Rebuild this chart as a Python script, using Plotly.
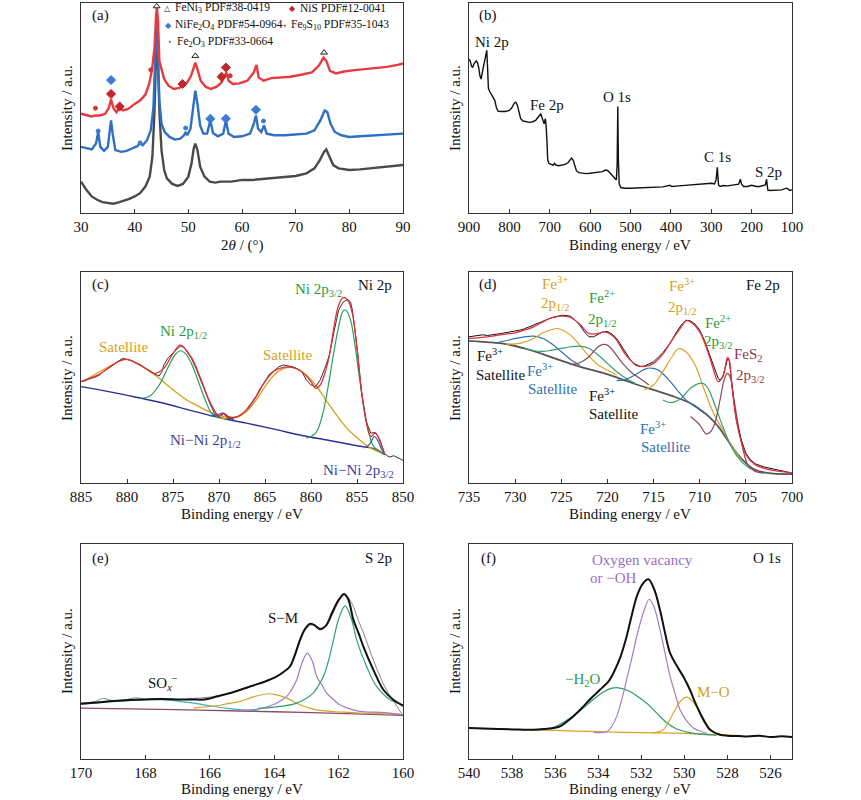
import plotly.graph_objects as go

SERIF = "Liberation Serif"
W, H = 861, 800

# ---------------- (a) XRD ----------------
a_tt_gray = [30, 31, 32, 33, 34, 35, 36, 37, 38, 39, 40, 41, 42, 42.8, 43.3, 43.7, 44.0, 44.15, 44.3, 44.6,
             45, 45.5, 46, 47, 48, 49, 50, 50.6, 51.0, 51.3, 51.7, 52.2, 53, 54, 55, 56, 58, 60, 62, 64,
             66, 68, 70, 72, 73.5, 74.5, 75.3, 75.7, 76.3, 77, 78, 80, 82, 84, 86, 88, 90]
a_int_gray = [95, 70, 50, 40, 33, 30, 28, 32, 37, 43, 50, 60, 80, 110, 170, 310, 490, 560, 480, 310,
              190, 130, 105, 88, 82, 88, 110, 150, 195, 210, 190, 140, 110, 95, 92, 95, 95, 100, 100, 103,
              105, 108, 112, 120, 135, 160, 185, 192, 170, 145, 135, 130, 132, 135, 138, 140, 145]

a_tt_blue = [30, 31, 32, 32.8, 33.2, 33.6, 34.3, 35.0, 35.4, 35.6, 35.9, 36.4, 37.5, 38.5, 39.5, 40.5, 41, 41.5,
             42.3, 43, 43.5, 43.9, 44.1, 44.3, 44.6, 45, 45.6, 46.5, 47.5, 48.5, 49.2, 49.5, 49.8, 50.4, 50.9,
             51.3, 51.7, 52.2, 52.8, 53.5, 54.1, 54.6, 55.5, 56.5, 57, 57.5, 58.5, 60, 61.5, 62.2, 62.6, 63,
             63.6, 64.1, 64.6, 66, 68, 70, 72, 73.5, 74.6, 75.4, 75.9, 76.5, 77.3, 78.5, 80, 82, 84, 86, 88, 90]
a_int_blue = [200, 195, 192, 210, 245, 200, 188, 200, 250, 280, 240, 190, 185, 188, 195, 202, 212, 205,
              220, 250, 320, 490, 590, 500, 340, 270, 245, 230, 222, 225, 235, 245, 235, 255, 320,
              370, 330, 265, 240, 240, 280, 242, 232, 240, 280, 240, 230, 232, 240, 270, 295, 255,
              245, 265, 240, 235, 235, 238, 240, 250, 280, 310, 305, 270, 245, 235, 230, 232, 234, 235, 238, 240]

a_tt_red = [30, 31, 32, 32.7, 33.5, 34.5, 35.2, 35.6, 36, 36.6, 37.2, 37.8, 38.8, 40, 41, 42, 42.7, 43.2, 43.7,
            44.0, 44.15, 44.35, 44.6, 45, 45.5, 46.3, 47.3, 48.3, 49, 49.8, 50.5, 51.0, 51.3, 51.7, 52.3, 53.2,
            54.2, 55.3, 56.2, 56.8, 57.1, 57.5, 58.3, 59.5, 61, 62.2, 62.7, 63.1, 64, 65.5, 67, 69, 71, 73,
            74.3, 75.2, 75.7, 76.4, 77.5, 79, 81, 83, 85, 87, 89, 90]
a_int_red = [300, 295, 292, 295, 295, 300, 318, 345, 318, 305, 318, 310, 315, 330, 340, 358, 390, 430, 500,
             600, 620, 580, 460, 435, 405, 385, 375, 378, 385, 395, 415, 445, 455, 435, 400, 382,
             375, 382, 395, 415, 425, 400, 390, 392, 400, 425, 448, 410, 400, 408, 410, 412, 418, 425,
             445, 470, 460, 430, 422, 428, 432, 435, 438, 442, 448, 452]

feni3_tt = [44.1, 51.3, 75.3]
feni3_int = [625, 475, 485]
nis_tt = [35.6, 37.2, 48.9, 56.2, 57.0]
nis_int = [360, 322, 390, 412, 440]
fe9s10_tt = [32.7, 43.0, 57.8]
fe9s10_int = [317, 433, 415]
nife2o4_tt = [35.6, 54.1, 57.0, 62.6]
nife2o4_int = [402, 285, 285, 312]
fe2o3_tt = [33.2, 41.0, 49.5, 64.0]
fe2o3_int = [248, 212, 257, 278]

# ---------------- (b) survey ----------------
b_be = [900, 897, 894, 891, 888, 885, 882, 879, 876, 873, 870, 867, 864, 861, 858, 856, 854, 852, 849, 845,
        840, 836, 832, 828, 820, 810, 800, 794, 788, 784, 780, 776, 772, 766, 758, 750, 742, 735, 730, 725,
        722, 719, 716, 714, 711, 709, 707, 705, 702, 698, 692, 688, 685, 678, 670, 662, 655, 650, 646, 642,
        638, 634, 628, 620, 610, 600, 590, 580, 570, 562, 556, 550, 545, 540, 535, 533, 531.5, 530, 528, 524,
        515, 500, 480, 460, 440, 420, 402, 398, 380, 360, 340, 320, 300, 292, 288, 285, 282, 278, 270, 260,
        250, 240, 232, 228, 225, 220, 210, 200, 195, 188, 180, 172, 166, 163, 160, 155, 140, 125, 115, 110,
        105, 100]
b_int = [465, 460, 445, 440, 450, 455, 460, 455, 440, 415, 405, 425, 445, 455, 480, 492, 440, 378, 368, 360,
         352, 340, 318, 308, 307, 307, 310, 318, 332, 335, 325, 300, 285, 278, 275, 274, 276, 280, 288, 298,
         300, 288, 272, 270, 285, 265, 220, 160, 150, 147, 145, 150, 145, 143, 145, 147, 152, 160, 166, 160,
         140, 128, 122, 120, 119, 120, 121, 122, 125, 130, 128, 120, 113, 105, 100, 150, 322, 160, 88, 77,
         75, 75, 76, 77, 78, 79, 84, 80, 82, 84, 86, 88, 90, 88, 100, 138, 85, 80, 83, 82,
         84, 84, 87, 102, 88, 80, 80, 84, 82, 80, 80, 83, 85, 102, 70, 68, 68, 70, 75, 73,
         68, 70]

# ---------------- (c) Ni 2p ----------------
c_raw_be = [885, 884.5, 884, 883.5, 883, 882.5, 882, 881.5, 881, 880.5, 880, 879.5, 879, 878.5, 878, 877.5, 877,
            876.5, 876.2, 876, 875.5, 875, 874.5, 874.2, 873.8, 873.5, 873, 872.5, 872, 871.5, 871, 870.5, 870,
            869.5, 869, 868.5, 868, 867.5, 867, 866.5, 866, 865.5, 865, 864.5, 864, 863.5, 863, 862.5, 862,
            861.5, 861, 860.5, 860, 859.5, 859, 858.5, 858, 857.5, 857, 856.5, 856, 855.7, 855.5, 855, 854.5,
            854, 853.5, 853, 852.5, 852, 851.5, 851, 850.5, 850]
c_raw_int = [305, 308, 315, 318, 325, 337, 345, 355, 365, 375, 372, 368, 360, 355, 345, 338, 328,
             322, 335, 355, 378, 392, 405, 412, 408, 395, 375, 345, 310, 270, 240, 210, 200,
             208, 195, 195, 200, 208, 222, 240, 260, 285, 308, 328, 338, 350, 355, 352, 350,
             344, 335, 310, 295, 290, 310, 345, 385, 455, 520, 545, 552, 545, 520, 410, 270,
             185, 150, 152, 130, 88, 78, 82, 75, 68]
c_fit_be = [885, 883, 881, 880, 878, 877, 876, 875, 874.2, 873, 872, 871, 870, 869.5, 869, 868, 867, 866, 865,
            864, 863, 862, 861, 860, 859.5, 859, 858.5, 858, 857.5, 857, 856.5, 856, 855.5, 855, 854.5, 854,
            853.5, 853, 852.5, 852]
c_fit_int = [305, 327, 365, 372, 345, 330, 345, 390, 415, 378, 315, 245, 202, 210, 200, 200, 220, 258, 305,
             337, 348, 348, 335, 305, 285, 295, 330, 385, 470, 535, 558, 550, 510, 405, 275, 185,
             140, 150, 125, 87]
c_bg_be = [885, 882, 879, 876, 873, 870, 867, 864, 861, 858, 855, 853, 852]
c_bg_int = [290, 275, 258, 240, 218, 197, 180, 162, 143, 128, 112, 102, 85]
c_ni12_be = [878.5, 877.5, 876.5, 875.5, 874.8, 874.2, 873.6, 873, 872.3, 871.5, 870.8, 870]
c_ni12_int = [255, 262, 295, 350, 385, 398, 388, 360, 310, 250, 210, 197]
c_ni32_be = [860.5, 859.5, 858.8, 858.2, 857.6, 857, 856.5, 856.2, 855.7, 855.2, 854.7, 854.2, 853.7, 853.2,
             852.5, 852]
c_ni32_int = [135, 150, 200, 280, 380, 470, 518, 520, 490, 410, 310, 220, 150, 110, 95, 85]
c_sat1_be = [885, 884, 883, 882, 881, 880.3, 879.5, 878.5, 877.5, 876.5, 875.5, 874.5, 873.5, 872.5, 871.5,
             870.5, 869.5, 868.5]
c_sat1_int = [305, 318, 335, 350, 365, 372, 368, 355, 335, 315, 292, 270, 250, 235, 220, 208, 200, 193]
c_sat2_be = [870, 869, 868, 867, 866, 865, 864, 863, 862.2, 861.5, 860.5, 859.5, 858.5, 857.5, 856.5, 855.5,
             854.5, 853.5, 852.5, 852]
c_sat2_int = [195, 195, 198, 215, 248, 290, 325, 344, 348, 343, 325, 295, 255, 215, 178, 148, 125, 105, 92, 85]
c_nini32_be = [854.2, 853.6, 853.1, 852.7, 852.3, 852]
c_nini32_int = [105, 118, 140, 125, 100, 85]
c_nini12_be = [871, 870.2, 869.6, 869, 868.4]
c_nini12_int = [202, 205, 210, 200, 190]

# ---------------- (d) Fe 2p ----------------
d_raw_be = [735, 734.5, 734, 733.5, 733, 732.5, 732, 731.5, 731, 730.5, 730, 729.5, 729, 728.5, 728, 727.5, 727,
            726.5, 726, 725.5, 725, 724.5, 724, 723.5, 723, 722.5, 722, 721.5, 721, 720.5, 720, 719.5, 719,
            718.5, 718, 717.5, 717, 716.5, 716, 715.5, 715, 714.5, 714, 713.5, 713, 712.5, 712, 711.5, 711,
            710.5, 710, 709.5, 709, 708.5, 708, 707.8, 707.5, 707.2, 707, 706.8, 706.5, 706.2, 706, 705.5,
            705, 704.5, 704, 703, 702, 701, 700]
d_raw_int = [440, 442, 444, 446, 444, 447, 448, 450, 452, 455, 456, 460, 464, 470, 474, 480, 488,
             492, 498, 500, 505, 504, 502, 490, 475, 455, 440, 440, 448, 455, 456, 448, 435,
             412, 390, 370, 355, 350, 352, 358, 365, 378, 392, 410, 430, 455, 475, 490, 488,
             478, 460, 430, 390, 350, 315, 310, 320, 350, 372, 370, 290, 220, 185, 130,
             90, 70, 58, 48, 42, 36, 30]
d_fit_be = [735, 733, 731, 730, 729, 728, 727, 726, 725, 724, 723, 722, 721, 720.3, 719.5, 719, 718, 717, 716,
            715, 714, 713, 712, 711.5, 711, 710, 709, 708.5, 708, 707.5, 707.2, 707, 706.8, 706.5, 706, 705.5,
            705, 704, 703, 702, 701, 700]
d_fit_int = [435, 440, 448, 452, 460, 470, 485, 498, 502, 498, 478, 450, 450, 455, 445, 430, 385, 358, 350,
             360, 388, 430, 470, 488, 485, 455, 385, 340, 305, 320, 355, 378, 370, 290, 185, 125,
             85, 55, 44, 38, 34, 30]
d_bg_be = [735, 733, 731, 729, 727, 725, 723, 721, 719, 717, 715, 713, 711, 710, 709, 708, 707, 706, 705, 704,
           703, 702, 700]
d_bg_int = [428, 424, 418, 405, 388, 368, 350, 335, 318, 298, 280, 262, 240, 222, 200, 170, 130, 90, 60, 40,
            32, 28, 27]
d_sat1_be = [732, 731, 730, 729, 728, 727, 726, 725, 724, 723]
d_sat1_int = [422, 428, 435, 440, 442, 435, 418, 395, 372, 355]
d_fe3a_be = [731, 729.5, 728, 727, 726, 725.5, 725, 724, 723, 722, 721, 720, 719]
d_fe3a_int = [418, 420, 435, 452, 462, 465, 462, 445, 415, 382, 355, 340, 325]
d_fe2a_be = [729, 728, 727, 726, 725, 724, 723, 722, 721, 720, 719, 718, 717]
d_fe2a_int = [405, 398, 396, 400, 405, 410, 412, 405, 385, 360, 335, 315, 300]
d_fes2a_be = [724, 723, 722, 721.2, 720.5, 720, 719.3, 718.5, 717.5, 716.5, 715.5]
d_fes2a_int = [356, 362, 380, 405, 417, 415, 395, 365, 335, 315, 295]
d_sat2_be = [719, 718, 717, 716, 715.3, 714.5, 713.5, 712.5, 711.5, 710.5, 709.5]
d_sat2_int = [308, 312, 325, 342, 346, 340, 315, 282, 250, 230, 210]
d_fe3b_be = [716, 715, 714, 713, 712.3, 711.5, 710.5, 709.5, 708.5, 707.5, 706.5, 705.5]
d_fe3b_int = [280, 295, 335, 380, 404, 395, 355, 280, 210, 160, 110, 70]
d_fe2b_be = [714, 713, 712, 711, 710, 709.5, 709, 708.3, 707.5, 706.5, 705.5, 704.5]
d_fe2b_int = [250, 242, 255, 285, 300, 298, 280, 230, 170, 105, 65, 42]
d_fes2b_be = [711, 710, 709.3, 708.8, 708.3, 707.8, 707.3, 707, 706.7, 706.3, 705.8, 705.3, 704.8, 704, 703]
d_fes2b_int = [200, 175, 148, 155, 185, 250, 315, 330, 318, 255, 170, 100, 55, 35, 30]

# ---------------- (e) S 2p ----------------
e_fit_be = [170, 169.5, 169, 168.5, 168, 167.5, 167, 166.5, 166.3, 166, 165.79, 165.3, 164.75, 164.3, 163.92,
            163.7, 163.51, 163.35, 163.2, 163.05, 162.89, 162.75, 162.58, 162.4, 162.2, 162.0, 161.83, 161.7,
            161.54, 161.38, 161.23, 160.92, 160.61, 160.3, 160]
e_fit_int = [166, 170, 174, 177, 179, 180, 179, 179, 178, 182, 188, 200, 218, 232, 248,
             262, 278, 315, 358, 390, 406, 402, 390, 400, 440, 478, 496, 480,
             418, 378, 338, 268, 208, 178, 160]
e_raw_be = [170, 169.6, 169.3, 169, 168.6, 168.3, 168, 167.5, 167, 166.5, 166, 165.5, 165, 164.5, 164, 163.5,
            163.2, 163, 162.8, 162.6, 162.4, 162.2, 162, 161.8, 161.6, 161.4, 161.2, 161, 160.8, 160.5, 160.2, 160]
e_raw_int = [168, 172, 182, 175, 178, 184, 180, 182, 178, 182, 186, 195, 210, 226, 244, 282,
             352, 392, 404, 394, 398, 432, 472, 492, 470, 420, 372, 318, 268, 205, 160, 130]
e_bg_be = [170, 168, 166, 164, 162, 160]
e_bg_int = [153, 150, 146, 142, 137, 131]
e_sox_be = [170, 169, 168, 167.5, 167, 166.5, 166, 165.5, 165, 164.5]
e_sox_int = [165, 172, 178, 178, 174, 168, 160, 153, 148, 145]
e_gold_be = [166.5, 166.3, 165.79, 165.4, 165.06, 164.6, 164.18, 163.9, 163.61, 163.2, 162.9, 162.58, 162.1,
             161.65, 161, 160.1]
e_gold_int = [153, 155, 160, 167, 173, 188, 196, 192, 183, 163, 153, 146, 142, 140, 137, 135]
e_purple_be = [165, 164.5, 164.03, 163.8, 163.61, 163.45, 163.3, 163.15, 162.97, 162.82, 162.68, 162.5, 162.37,
               162.15, 161.96, 161.34, 160.7, 160]
e_purple_int = [146, 150, 163, 175, 188, 210, 238, 285, 318, 295, 248, 220, 198, 178, 163, 143, 140, 133]
e_green_be = [164.5, 164, 163.3, 162.79, 162.6, 162.47, 162.3, 162.16, 162.0, 161.8, 161.6, 161.44, 161.13,
              160.82, 160.4, 160]
e_green_int = [152, 156, 168, 198, 225, 248, 300, 358, 420, 460, 420, 358, 278, 218, 178, 163]

# ---------------- (f) O 1s ----------------
f_fit_be = [540, 539, 538, 537, 536.5, 536, 535.77, 535.3, 534.84, 534.4, 533.92, 533.5, 533.22, 532.95, 532.68,
            532.45, 532.21, 531.95, 531.67, 531.4, 531.13, 530.9, 530.66, 530.35, 530.05, 529.74, 529.5, 529.27,
            529.0, 528.81, 528.34, 528, 527.5, 527, 526.5, 526, 525.5, 525]
f_fit_int = [93, 91, 89, 88, 90, 94, 98, 120, 148, 178, 208, 235, 268, 310, 368,
             430, 488, 525, 540, 510, 448, 380, 318, 280, 248, 208, 170, 138,
             105, 88, 73, 70, 69, 68, 70, 66, 68, 66]
f_bg_be = [540, 538, 536, 534, 532, 530, 528.5, 527.3]
f_bg_int = [93, 89, 86, 82, 79, 77, 73, 70]
f_h2o_be = [537, 536, 535.5, 534.84, 534.3, 533.8, 533.4, 533.06, 532.6, 532.1, 531.7, 531.28, 530.8, 530.35,
            529.8, 529.27, 528.5]
f_h2o_int = [88, 97, 115, 145, 175, 200, 212, 214, 205, 185, 165, 138, 108, 90, 80, 75, 72]
f_ov_be = [534.2, 533.6, 533.35, 533.14, 532.9, 532.68, 532.45, 532.21, 531.9, 531.63, 531.4, 531.13, 530.9,
           530.66, 530.4, 530.2, 529.9, 529.58, 529.2, 528.96]
f_ov_int = [80, 82, 100, 128, 180, 238, 300, 368, 440, 480, 455, 388, 320, 248, 190, 148, 115, 93, 82, 78]
f_mo_be = [531.5, 530.98, 530.75, 530.51, 530.2, 529.89, 529.6, 529.27, 528.96, 528.65, 528.3]
f_mo_int = [78, 88, 110, 138, 172, 186, 172, 140, 105, 80, 74]

# ---------------- figure ----------------
fig = go.Figure()


def line(n, x, y, color, width=1.2, shape="spline"):
    ax = "" if n == 1 else str(n)
    fig.add_trace(go.Scatter(x=x, y=y, mode="lines", xaxis="x" + ax, yaxis="y" + ax,
                             line=dict(color=color, width=width, shape=shape), hoverinfo="skip"))


def marks(x, y, symbol, color, size):
    fig.add_trace(go.Scatter(x=x, y=y, mode="markers", xaxis="x", yaxis="y",
                             marker=dict(symbol=symbol, color=color, size=size,
                                         line=dict(color=color, width=1)), hoverinfo="skip"))


# (a)
line(1, a_tt_gray, a_int_gray, "#4a4a4a", 2.4, "linear")
line(1, a_tt_blue, a_int_blue, "#2f6fc4", 2.4, "linear")
line(1, a_tt_red, a_int_red, "#e8393f", 2.4, "linear")
marks(feni3_tt, feni3_int, "triangle-up-open", "#222", 6)
marks(nis_tt, nis_int, "diamond", "#c1272d", 7)
marks(fe9s10_tt, fe9s10_int, "circle", "#d93030", 4)
marks(nife2o4_tt, nife2o4_int, "diamond", "#3a7bd5", 7)
marks(fe2o3_tt, fe2o3_int, "circle", "#3a7bd5", 4)

# (b)
line(2, b_be, b_int, "#111", 1.4, "linear")

# (c)
line(3, c_bg_be, c_bg_int, "#2b2f8f", 1.4)
line(3, c_sat1_be, c_sat1_int, "#d4a020", 1.3)
line(3, c_sat2_be, c_sat2_int, "#d4a020", 1.3)
line(3, c_ni12_be, c_ni12_int, "#2a9d5c", 1.2)
line(3, c_ni32_be, c_ni32_int, "#2a9d5c", 1.2)
line(3, c_nini12_be, c_nini12_int, "#3b4fb0", 1.2)
line(3, c_nini32_be, c_nini32_int, "#3b4fb0", 1.2)
line(3, c_raw_be, c_raw_int, "#333", 1.0, "linear")
line(3, c_fit_be, c_fit_int, "#e0303a", 1.3)

# (d)
line(4, d_bg_be, d_bg_int, "#555", 1.8)
line(4, d_sat1_be, d_sat1_int, "#2f70b0", 1.2)
line(4, d_fe3a_be, d_fe3a_int, "#d9a227", 1.2)
line(4, d_fe2a_be, d_fe2a_int, "#3a9e78", 1.2)
line(4, d_fes2a_be, d_fes2a_int, "#8b4a5c", 1.2)
line(4, d_sat2_be, d_sat2_int, "#2f70b0", 1.2)
line(4, d_fe3b_be, d_fe3b_int, "#d9a227", 1.2)
line(4, d_fe2b_be, d_fe2b_int, "#3a9e78", 1.2)
line(4, d_fes2b_be, d_fes2b_int, "#8b4a5c", 1.2)
line(4, d_raw_be, d_raw_int, "#111", 1.0, "linear")
line(4, d_fit_be, d_fit_int, "#e0303a", 1.3)

# (e)
line(5, e_bg_be, e_bg_int, "#8a4a6a", 1.3)
line(5, e_sox_be, e_sox_int, "#39b5b8", 1.2)
line(5, e_gold_be, e_gold_int, "#d8a22a", 1.2)
line(5, e_purple_be, e_purple_int, "#a07ac8", 1.2)
line(5, e_green_be, e_green_int, "#2fa070", 1.2)
line(5, e_raw_be, e_raw_int, "#888", 1.0)
line(5, e_fit_be, e_fit_int, "#111", 2.0)

# (f)
line(6, f_bg_be, f_bg_int, "#d9a227", 1.3)
line(6, f_h2o_be, f_h2o_int, "#2a9d6a", 1.2)
line(6, f_ov_be, f_ov_int, "#a27cc8", 1.2)
line(6, f_mo_be, f_mo_int, "#e0a525", 1.2)
line(6, f_fit_be, f_fit_int, "#111", 2.0)

# axes: pixel boxes (left, top, right, bottom)
boxes = [(81, 3, 403, 213), (469, 3, 792, 213), (81, 272, 403, 483),
         (469, 272, 792, 483), (81, 544, 403, 759), (469, 544, 792, 759)]
xranges = [[30, 90], [900, 100], [885, 850], [735, 700], [170, 160], [540, 525]]
dticks = [10, 100, 5, 5, 2, 2]
yranges = [[0, 635], [0, 635], [0, 635], [0, 635], [0, 646], [0, 646]]

axes = {}
for i, (l, t, r, b) in enumerate(boxes):
    n = "" if i == 0 else str(i + 1)
    frame = dict(showline=True, mirror=True, linecolor="#333", linewidth=1.3,
                 showgrid=False, zeroline=False, automargin=False)
    axes["xaxis" + n] = dict(domain=[l / W, r / W], anchor="y" + n, range=xranges[i], dtick=dticks[i],
                             ticks="inside", ticklen=4, tickwidth=1, tickcolor="#333",
                             tickfont=dict(family=SERIF, size=15, color="#111"), **frame)
    axes["yaxis" + n] = dict(domain=[1 - b / H, 1 - t / H], anchor="x" + n, range=yranges[i],
                             showticklabels=False, ticks="", **frame)


def note(px, py, text, color="#111", size=15, anchor="center", angle=0):
    return dict(x=px / W, y=1 - py / H, xref="paper", yref="paper", text=text, showarrow=False,
                font=dict(family=SERIF, size=size, color=color), xanchor=anchor, yanchor="middle",
                textangle=angle)


GOLD, GREEN, NAVY, BROWN, BLUE, PURPLE = "#d4a020", "#2a9d3c", "#3b3f9a", "#8b3a4a", "#2f70b0", "#9a6cc0"
notes = [
    # panel letters and element labels
    note(100, 15, "(a)"), note(488, 15, "(b)"), note(100, 285, "(c)"),
    note(488, 285, "(d)"), note(100, 558, "(e)"), note(488, 558, "(f)"),
    note(375, 285, "Ni 2p"), note(763, 285, "Fe 2p"), note(378, 558, "S 2p"), note(767, 558, "O 1s"),
    # axis titles
    note(242, 245, "2<i>θ</i> / (°)"), note(630, 245, "Binding energy / eV"),
    note(242, 514, "Binding energy / eV"), note(630, 514, "Binding energy / eV"),
    note(242, 789, "Binding energy / eV"), note(630, 789, "Binding energy / eV"),
    note(67, 108, "Intensity / a.u.", angle=-90), note(455, 108, "Intensity / a.u.", angle=-90),
    note(67, 378, "Intensity / a.u.", angle=-90), note(455, 378, "Intensity / a.u.", angle=-90),
    note(67, 651, "Intensity / a.u.", angle=-90), note(455, 651, "Intensity / a.u.", angle=-90),
    # (a) phase key
    note(167, 8, "△", "#222", 8), note(173, 8, "FeNi<sub>3</sub> PDF#38-0419", size=11.5, anchor="left"),
    note(292, 8, "◆", "#c1272d", 8), note(298, 8, "NiS PDF#12-0041", size=11.5, anchor="left"),
    note(168, 25, "◆", "#3a7bd5", 8), note(173, 25, "NiFe<sub>2</sub>O<sub>4</sub> PDF#54-0964", size=11.5, anchor="left"),
    note(284, 25, "●", "#d93030", 5), note(289, 25, "Fe<sub>9</sub>S<sub>10</sub> PDF#35-1043", size=11.5, anchor="left"),
    note(169, 42, "●", "#3a7bd5", 5), note(175, 42, "Fe<sub>2</sub>O<sub>3</sub> PDF#33-0664", size=11.5, anchor="left"),
    # (b)
    note(492, 42, "Ni 2p"), note(547, 105, "Fe 2p"), note(617, 97, "O 1s"),
    note(717, 157, "C 1s"), note(768, 172, "S 2p"),
    # (c)
    note(318, 290, "Ni 2p<sub>3/2</sub>", GREEN), note(183, 332, "Ni 2p<sub>1/2</sub>", GREEN),
    note(123, 347, "Satellite", GOLD), note(287, 355, "Satellite", GOLD),
    note(205, 441, "Ni−Ni 2p<sub>1/2</sub>", NAVY), note(358, 471, "Ni−Ni 2p<sub>3/2</sub>", NAVY),
    # (d)
    note(555, 283, "Fe<sup>3+</sup>", GOLD), note(555, 304, "2p<sub>1/2</sub>", GOLD),
    note(602, 297, "Fe<sup>2+</sup>", GREEN), note(602, 320, "2p<sub>1/2</sub>", GREEN),
    note(682, 285, "Fe<sup>3+</sup>", GOLD), note(682, 308, "2p<sub>1/2</sub>", GOLD),
    note(718, 322, "Fe<sup>2+</sup>", GREEN), note(718, 342, "2p<sub>3/2</sub>", GREEN),
    note(748, 355, "FeS<sub>2</sub>", BROWN), note(750, 376, "2p<sub>3/2</sub>", BROWN),
    note(490, 355, "Fe<sup>3+</sup>"), note(500, 375, "Satellite"),
    note(540, 370, "Fe<sup>3+</sup>", BLUE), note(552, 389, "Satellite", BLUE),
    note(602, 395, "Fe<sup>3+</sup>"), note(613, 414, "Satellite"),
    note(653, 428, "Fe<sup>3+</sup>", BLUE), note(665, 447, "Satellite", BLUE),
    # (e)
    note(283, 618, "S−M"), note(163, 683, "SO<sub><i>x</i></sub><sup>−</sup>"),
    # (f)
    note(642, 560, "Oxygen vacancy", PURPLE), note(613, 578, "or −OH", PURPLE),
    note(583, 680, "−H<sub>2</sub>O", GREEN), note(713, 692, "M−O", GOLD),
]

fig.update_layout(width=W, height=H, margin=dict(l=0, r=0, t=0, b=0, pad=0, autoexpand=False),
                  paper_bgcolor="white", plot_bgcolor="white", showlegend=False,
                  annotations=notes, **axes)

# drop the browser's default page margin so the figure sits at the window origin
fig.write_html("out.html", config={"displayModeBar": False},
               post_script="document.body.style.margin='0';document.body.style.overflow='hidden';")
